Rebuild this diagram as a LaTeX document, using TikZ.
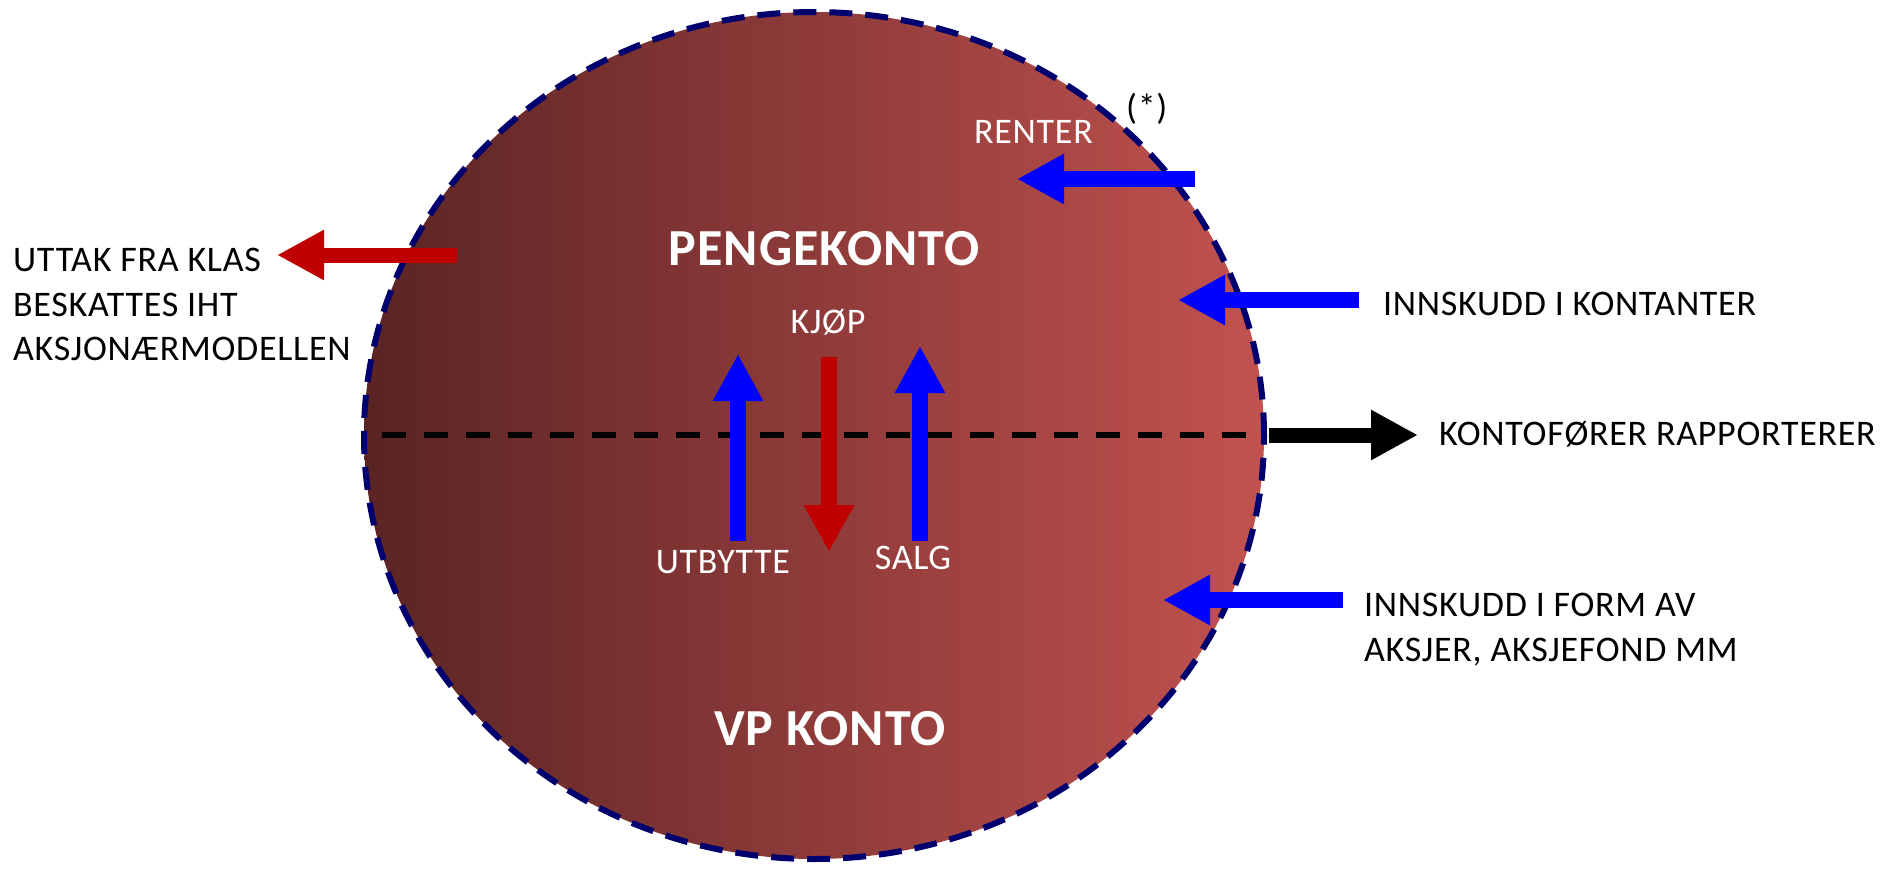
\documentclass[tikz,border=0pt]{standalone}
\usepackage{fontspec}
\setmainfont{Carlito}[LetterSpace=2.0]
\usetikzlibrary{arrows.meta,shapes.geometric}
\definecolor{bluearr}{RGB}{0,0,255}
\definecolor{redarr}{RGB}{192,0,0}
\definecolor{navyb}{RGB}{0,0,110}
\definecolor{shadeL}{RGB}{90,36,36}
\definecolor{shadeR}{RGB}{194,82,79}
\begin{document}
\begin{tikzpicture}[x=1pt,y=-1pt,
  blockarrow/.style={line width=16pt,-{Triangle[length=47pt,width=47pt]}},
  lbl/.style={font=\fontsize{36}{44.5}\selectfont,inner sep=0pt,text=black},
  wlbl/.style={lbl,text=white},
  biglbl/.style={font=\fontsize{52}{60}\selectfont\bfseries,inner sep=0pt,text=white},
  konto/.style={ellipse,minimum width=900pt,minimum height=847pt,inner sep=0pt,
    left color=shadeL,right color=shadeR,draw=navyb,line width=6pt,
    dash pattern=on 23pt off 13pt}]
\useasboundingbox (0,0) rectangle (1881,868);

% account ellipse
\node[konto] (ell) at (814,435.5) {};

% divider
\coordinate (dl) at (382,435);
\coordinate (dr) at (1250,435);
\draw[line width=6.5pt,dash pattern=on 24pt off 18pt] (dl) -- (dr);

% titles
\node[biglbl,anchor=base] (penge) at (824,265) {PENGEKONTO};
\node[biglbl,anchor=base] (vp) at (830,745) {VP KONTO};

% inner labels
\node[wlbl,anchor=base west] (renter) at (974,143) {RENTER};
\node[lbl,anchor=base west] (star) at (1126,119) {(*)};
\node[wlbl,anchor=base] (kjop) at (828,333) {KJØP};
\node[wlbl,anchor=base] (utbytte) at (723,573) {UTBYTTE};
\node[wlbl,anchor=base] (salg) at (913,569) {SALG};

% outer labels
\node[lbl,anchor=north west,align=left] (uttak) at (13,248)
  {UTTAK FRA KLAS\\BESKATTES IHT\\AKSJONÆRMODELLEN};
\node[lbl,anchor=base west] (kontanter) at (1383,315) {INNSKUDD I KONTANTER};
\node[lbl,anchor=base west] (rapport) at (1439,445) {KONTOFØRER RAPPORTERER};
\node[lbl,anchor=north west,align=left] (form) at (1364,593)
  {INNSKUDD I FORM AV\\AKSJER, AKSJEFOND MM};

% arrow end points
\coordinate (renterS) at (1195,179);  \coordinate (renterT) at (1017,179);
\coordinate (kontS) at (1359,300);    \coordinate (kontT) at (1178,300);
\coordinate (formS) at (1343,600);    \coordinate (formT) at (1163,600);
\coordinate (rapS) at (1269,435);     \coordinate (rapT) at (1418,435);
\coordinate (uttakS) at (457,255);    \coordinate (uttakT) at (277,255);
\coordinate (utbS) at (738,541);      \coordinate (utbT) at (738,354);
\coordinate (kjopS) at (829,357);     \coordinate (kjopT) at (829,552);
\coordinate (salgS) at (920,541);     \coordinate (salgT) at (920,346);

% arrows
\draw[blockarrow,bluearr] (renterS) -- (renterT);
\draw[blockarrow,bluearr] (kontS) -- (kontT);
\draw[blockarrow,bluearr] (formS) -- (formT);
\draw[blockarrow,black,line width=15pt] (rapS) -- (rapT);
\draw[blockarrow,redarr,line width=15pt] (uttakS) -- (uttakT);
\draw[blockarrow,bluearr] (utbS) -- (utbT);
\draw[blockarrow,redarr] (kjopS) -- (kjopT);
\draw[blockarrow,bluearr] (salgS) -- (salgT);
\end{tikzpicture}
\end{document}
